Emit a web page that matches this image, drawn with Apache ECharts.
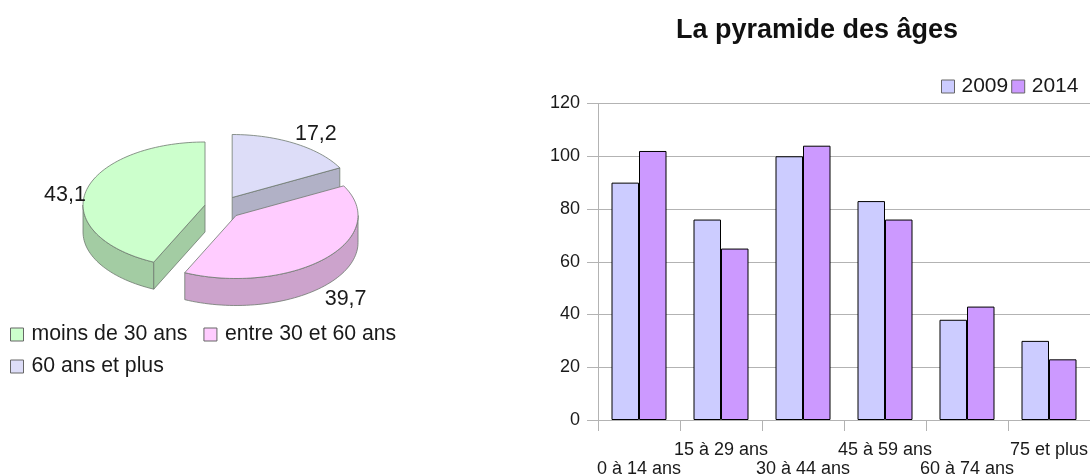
<!DOCTYPE html>
<html>
<head>
<meta charset="utf-8">
<style>
  html, body { margin: 0; padding: 0; background: #fff; }
  #chart { width: 1090px; height: 474px; }
</style>
<script src="https://cdn.jsdelivr.net/npm/echarts@6/dist/echarts.min.js"></script>
</head>
<body>
<div id="chart"></div>
<script>
const pieNames = ['moins de 30 ans', 'entre 30 et 60 ans', '60 ans et plus']
const pieValues = [43.1, 39.7, 17.2]
const pieColors = ['#ccffcc', '#ffccff', '#ddddf8']
const pieSideColors = ['#a3cca3', '#cca3cc', '#b1b1c6']

const ageGroups = ['0 à 14 ans', '15 à 29 ans', '30 à 44 ans', '45 à 59 ans', '60 à 74 ans', '75 et plus']
const values2009 = [90, 76, 100, 83, 38, 30]
const values2014 = [102, 65, 104, 76, 43, 23]

const FONT = '"Liberation Sans", Arial, sans-serif'
const TEXT_COLOR = '#1a1a1a'
const AXIS_COLOR = '#b3b3b3'

// faux 3d du camembert
const PIE = { cx: 222.8, cy: 207.5, rx: 122, ry: 63, depth: 27, explode: 18.2, explodeY: 0.64 }
const total = pieValues.reduce((a, b) => a + b, 0)
const toRad = (deg) => (deg * Math.PI) / 180

const sliceAngles = (index) => {
  // sens anti-horaire depuis le haut
  let start = 90
  for (let i = 0; i < index; i++) start += (pieValues[i] / total) * 360
  return [start, start + (pieValues[index] / total) * 360]
}

const renderSlice = (index) => (params, api) => {
  const [start, end] = sliceAngles(index)
  const mid = toRad((start + end) / 2)
  const x0 = PIE.cx + Math.cos(mid) * PIE.explode
  const y0 = PIE.cy - Math.sin(mid) * PIE.explode * PIE.explodeY
  const pt = (deg, dy = 0) => [
    x0 + Math.cos(toRad(deg)) * PIE.rx,
    y0 - Math.sin(toRad(deg)) * PIE.ry + dy
  ]
  const arc = (a, b, dy = 0) => {
    const out = []
    const n = Math.max(2, Math.ceil(Math.abs(b - a) / 2))
    for (let i = 0; i <= n; i++) out.push(pt(a + ((b - a) * i) / n, dy))
    return out
  }
  const wallStyle = { fill: pieSideColors[index], stroke: '#6f7a70', lineWidth: 0.8 }
  const children = []
  const d = PIE.depth

  // paroi extérieure : seulement la partie tournée vers l'avant (180-360)
  const a0 = Math.max(start, 180)
  const a1 = Math.min(end, 360)
  if (a1 > a0) {
    children.push({
      type: 'polygon',
      shape: { points: arc(a0, a1).concat(arc(a1, a0, d)) },
      style: wallStyle
    })
  }
  // parois de coupe visibles
  const cutFace = (deg) => ({
    type: 'polygon',
    shape: { points: [[x0, y0], pt(deg), pt(deg, d), [x0, y0 + d]] },
    style: wallStyle
  })
  if (index === 0) children.push(cutFace(end))
  if (index === 2) children.push(cutFace(start))

  // face du dessus
  children.push({
    type: 'polygon',
    shape: { points: [[x0, y0]].concat(arc(start, end)) },
    style: { fill: pieColors[index], stroke: '#6f7a70', lineWidth: 0.8 }
  })

  // étiquette placée selon l'angle médian
  const cosM = Math.cos(mid)
  const sinM = Math.sin(mid)
  const lx = x0 + cosM * PIE.rx
  const below = sinM < -0.2
  const beside = Math.abs(sinM) < 0.3
  const ly = y0 - sinM * PIE.ry + (below ? d : 0) + (beside ? 4 : 2)
  children.push({
    type: 'text',
    style: {
      x: lx,
      y: ly,
      text: String(api.value(0)).replace('.', ','),
      fill: TEXT_COLOR,
      font: '21.5px ' + FONT,
      align: cosM < 0 ? 'right' : 'left',
      verticalAlign: beside ? 'middle' : below ? 'top' : 'bottom'
    }
  })
  return { type: 'group', children }
}

const pieSeries = pieNames.map((name, i) => ({
  type: 'custom',
  name,
  coordinateSystem: 'none',
  z: [2, 3, 1][i],
  itemStyle: { color: pieColors[i] },
  renderItem: renderSlice(i),
  data: [[pieValues[i]]]
}))

const legendBorder = { borderColor: '#666', borderWidth: 1 }

const legendBase = {
  padding: 0,
  itemWidth: 13,
  itemHeight: 13,
  selectedMode: false
}
const legendText = (fontSize, pad) => ({ fontFamily: FONT, fontSize, color: TEXT_COLOR, padding: [0, 0, 0, pad] })
const legendItems = (names) => names.map((name) => ({ name, icon: 'rect', itemStyle: legendBorder }))

const options = {
  backgroundColor: '#fff',
  animation: false,
  title: {
    text: 'La pyramide des âges',
    left: 817,
    top: 17,
    padding: 0,
    textAlign: 'center',
    textStyle: { fontFamily: FONT, fontSize: 27, fontWeight: 'bold', color: '#111' }
  },
  legend: [
    { ...legendBase, left: 10, top: 324, itemGap: 16, textStyle: legendText(21.25, 3), data: legendItems(pieNames.slice(0, 2)) },
    { ...legendBase, left: 10, top: 356, textStyle: legendText(21.25, 3), data: legendItems(pieNames.slice(2)) },
    { ...legendBase, left: 941, top: 76, itemGap: 3, textStyle: legendText(21, 2), data: legendItems(['2009', '2014']) }
  ],
  grid: { left: 598, top: 103.5, width: 492, height: 316.5, outerBoundsMode: 'none' },
  xAxis: {
    type: 'category',
    data: ageGroups,
    axisLine: { lineStyle: { color: AXIS_COLOR } },
    axisTick: { show: true, length: 11, lineStyle: { color: AXIS_COLOR } },
    axisLabel: {
      interval: 0,
      margin: 21,
      fontFamily: FONT,
      fontSize: 18,
      lineHeight: 19,
      color: TEXT_COLOR,
      // étiquettes décalées une sur deux
      formatter: (value, index) => (index % 2 === 0 ? '\n' + value : value)
    }
  },
  yAxis: {
    type: 'value',
    min: 0,
    max: 120,
    interval: 20,
    axisLine: { show: true, lineStyle: { color: AXIS_COLOR } },
    axisTick: { show: true, length: 11, lineStyle: { color: AXIS_COLOR } },
    axisLabel: { margin: 18, fontFamily: FONT, fontSize: 18, color: TEXT_COLOR },
    splitLine: { show: true, lineStyle: { color: AXIS_COLOR } }
  },
  series: [
    ...pieSeries,
    {
      type: 'bar',
      name: '2009',
      data: values2009,
      barGap: 0,
      barWidth: 27.5,
      itemStyle: { color: '#ccccff', borderColor: '#000', borderWidth: 1 }
    },
    {
      type: 'bar',
      name: '2014',
      data: values2014,
      barWidth: 27.5,
      itemStyle: { color: '#cc99ff', borderColor: '#000', borderWidth: 1 }
    }
  ]
}

const chartInstance = echarts.init(document.getElementById('chart'))
chartInstance.setOption(options)
</script>
</body>
</html>
